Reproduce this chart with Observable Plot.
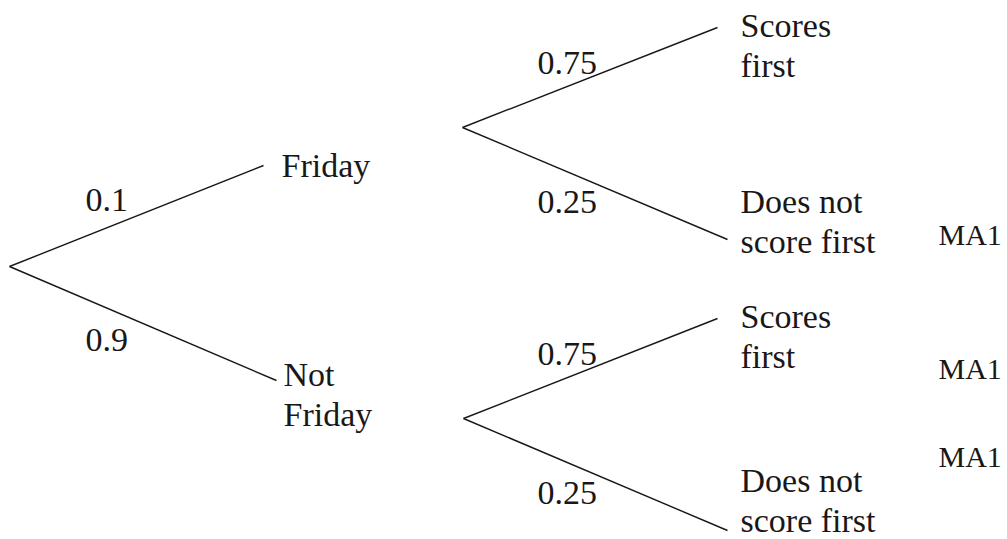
<!DOCTYPE html>
<html>
<head>
<meta charset="utf-8">
<script src="https://cdn.jsdelivr.net/npm/d3@7"></script>
<script src="https://cdn.jsdelivr.net/npm/@observablehq/plot@0.6"></script>
<style>
  html, body { margin: 0; padding: 0; background: #ffffff; }
  #chart svg { display: block; }
</style>
</head>
<body>
<div id="chart"></div>
<script>
// ---- Tree content ----
const firstEvents = ["Friday", "Not\nFriday"];
const firstProbs = ["0.1", "0.9"];
const secondEvents = ["Scores\nfirst", "Does not\nscore first"];
const secondProbs = ["0.75", "0.25"];
const markLabels = ["MA1", "MA1", "MA1"];

// ---- Layout (diagram geometry, in the chart's own coordinate units) ----
const root = {x: 9, y: 266};
const level1End = [{x: 263, y: 165}, {x: 276, y: 380}];
const level2Start = [{x: 462, y: 127}, {x: 463, y: 418}];
const level2Offset = [{x: 717, dy: -100}, {x: 727, dy: 112}];
const level1Label = [{x: 281, y: 176}, {x: 283, y: 425}];
const level1Prob = [{x: 85, y: 210}, {x: 85, y: 350}];
// baseline of the last label line relative to the branch end, per [group][branch]
const level2LabelDy = [[49, 13], [49, 1]];
const level2LabelX = 740;
const level2ProbDy = [{x: 537, dy: -54}, {x: 537, dy: 85}];
const markPos = [{x: 938, y: 244}, {x: 938, y: 378}, {x: 938, y: 466}];

// ---- Build tables ----
const branches = [];
const labels = [];
const probs = [];
firstEvents.forEach((ev, i) => {
  branches.push({x1: root.x, y1: root.y, x2: level1End[i].x, y2: level1End[i].y});
  labels.push({x: level1Label[i].x, y: level1Label[i].y, text: ev});
  probs.push({x: level1Prob[i].x, y: level1Prob[i].y, text: firstProbs[i]});
  secondEvents.forEach((ev2, j) => {
    const s = level2Start[i];
    const ey = s.y + level2Offset[j].dy;
    branches.push({x1: s.x, y1: s.y, x2: level2Offset[j].x, y2: ey});
    labels.push({x: level2LabelX, y: ey + level2LabelDy[i][j], text: ev2});
    probs.push({x: level2ProbDy[j].x, y: s.y + level2ProbDy[j].dy, text: secondProbs[j]});
  });
});
const marksTable = markLabels.map((m, k) => ({x: markPos[k].x, y: markPos[k].y, text: m}));

const ink = "#1a1718";
const font = "'Liberation Serif', 'Times New Roman', serif";

const chart = Plot.plot({
  width: 1007,
  height: 539,
  margin: 0,
  x: {domain: [0, 1007], range: [0, 1007], axis: null},
  y: {domain: [0, 539], range: [0, 539], axis: null},
  style: {background: "#ffffff", fontFamily: font},
  marks: [
    Plot.link(branches, {x1: "x1", y1: "y1", x2: "x2", y2: "y2", stroke: ink, strokeWidth: 1.4}),
    Plot.text(labels, {
      x: "x", y: "y", text: "text",
      textAnchor: "start", lineAnchor: "bottom", lineHeight: 40 / 34,
      fontSize: 34, fontFamily: font, fill: ink
    }),
    Plot.text(probs, {
      x: "x", y: "y", text: "text",
      textAnchor: "start", lineAnchor: "bottom",
      fontSize: 34, fontFamily: font, fill: ink
    }),
    Plot.text(marksTable, {
      x: "x", y: "y", text: "text",
      textAnchor: "start", lineAnchor: "bottom",
      fontSize: 30, fontFamily: font, fill: ink
    })
  ]
});
document.getElementById("chart").appendChild(chart);
</script>
</body>
</html>
